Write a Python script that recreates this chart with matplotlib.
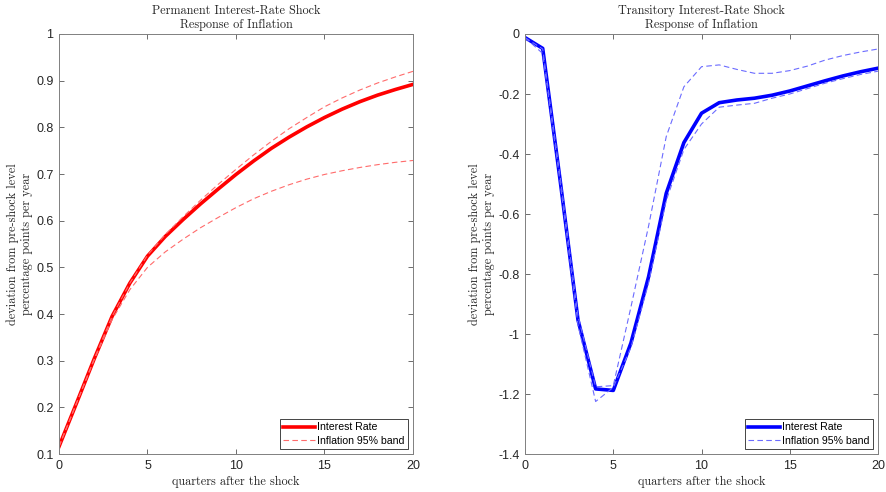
import numpy as np
import matplotlib.pyplot as plt

# ── Data ──
quarters = np.arange(0, 21)

perm_rate = [0.116, 0.210, 0.305, 0.395, 0.466, 0.524, 0.566, 0.602, 0.636, 0.668,
             0.699, 0.728, 0.755, 0.779, 0.801, 0.821, 0.839, 0.855, 0.869, 0.881, 0.892]
perm_upper = [0.116, 0.210, 0.305, 0.395, 0.466, 0.526, 0.570, 0.608, 0.644, 0.678,
              0.710, 0.741, 0.770, 0.797, 0.821, 0.844, 0.863, 0.880, 0.895, 0.908, 0.920]
perm_lower = [0.116, 0.210, 0.303, 0.388, 0.452, 0.500, 0.533, 0.560, 0.585, 0.607,
              0.628, 0.647, 0.663, 0.677, 0.689, 0.699, 0.707, 0.714, 0.720, 0.725, 0.729]

trans_rate = [-0.012, -0.048, -0.493, -0.953, -1.183, -1.188, -1.030, -0.809, -0.531, -0.362,
              -0.264, -0.229, -0.220, -0.214, -0.204, -0.190, -0.173, -0.156, -0.140, -0.126, -0.114]
trans_upper = [-0.012, -0.050, -0.480, -0.940, -1.176, -1.172, -0.910, -0.640, -0.342, -0.176,
               -0.109, -0.103, -0.118, -0.131, -0.131, -0.122, -0.107, -0.087, -0.072, -0.060, -0.050]
trans_lower = [-0.012, -0.065, -0.500, -0.970, -1.225, -1.178, -1.045, -0.830, -0.555, -0.385,
               -0.300, -0.244, -0.237, -0.231, -0.214, -0.200, -0.182, -0.164, -0.149, -0.135, -0.124]

xticks = [0, 5, 10, 15, 20]
perm_yticks = [0.1, 0.2, 0.3, 0.4, 0.5, 0.6, 0.7, 0.8, 0.9, 1.0]
perm_yticklabels = ['0.1', '0.2', '0.3', '0.4', '0.5', '0.6', '0.7', '0.8', '0.9', '1']
trans_yticks = [-1.4, -1.2, -1.0, -0.8, -0.6, -0.4, -0.2, 0.0]
trans_yticklabels = ['-1.4', '-1.2', '-1', '-0.8', '-0.6', '-0.4', '-0.2', '0']

# ── Style ──
plt.rcParams['axes.unicode_minus'] = False
serif = 'cmr10'
sans = 'Liberation Sans'
txt = '#262626'

fig = plt.figure(figsize=(8.86, 4.92), dpi=100)
ax1 = fig.add_axes([0.0666, 0.0772, 0.3995, 0.8537])
ax2 = fig.add_axes([0.5926, 0.0772, 0.3984, 0.8537])


def style_axes(ax, yticks, yticklabels, ylim, title, solid_col, band_col, solid, up, lo):
    ax.plot(quarters, solid, color=solid_col, linewidth=2.6, label='Interest Rate')
    ax.plot(quarters, up, color=band_col, linewidth=0.8, linestyle=(0, (5, 3)),
            label='Inflation 95% band')
    ax.plot(quarters, lo, color=band_col, linewidth=0.8, linestyle=(0, (5, 3)))
    ax.set_xlim(0, 20)
    ax.set_ylim(*ylim)
    ax.set_xticks(xticks)
    ax.set_xticklabels([str(t) for t in xticks], fontfamily=sans, fontsize=9, color=txt)
    ax.set_yticks(yticks)
    ax.set_yticklabels(yticklabels, fontfamily=sans, fontsize=9, color=txt)
    ax.tick_params(direction='in', top=True, right=True, length=3.5, width=0.6,
                   colors='#555555', labelcolor=txt, pad=4)
    for sp in ax.spines.values():
        sp.set_color('#808080')
        sp.set_linewidth(0.7)
    ax.set_title(title, fontfamily=serif, fontsize=8.8, color=txt, pad=4, linespacing=1.2)
    ax.set_xlabel('quarters after the shock', fontfamily=serif, fontsize=8.8, color=txt,
                  labelpad=3)
    ax.set_ylabel('deviation from pre-shock level\npercentage points per year',
                  fontfamily=serif, fontsize=8.8, color=txt, labelpad=2, linespacing=1.2)
    leg = ax.legend(loc='lower right', prop={'family': sans, 'size': 7.6},
                    fancybox=False, framealpha=1, edgecolor='#262626',
                    handlelength=3.0, handletextpad=0.2, borderpad=0.3,
                    labelspacing=0.3, borderaxespad=0.5)
    leg.get_frame().set_linewidth(0.6)


style_axes(ax1, perm_yticks, perm_yticklabels, (0.1, 1.0),
           'Permanent Interest-Rate Shock\nResponse of Inflation',
           '#ff0000', '#ff6b6b', perm_rate, perm_upper, perm_lower)
style_axes(ax2, trans_yticks, trans_yticklabels, (-1.4, 0.0),
           'Transitory Interest-Rate Shock\nResponse of Inflation',
           '#0000ff', '#6b6bff', trans_rate, trans_upper, trans_lower)

fig.savefig('out.png', dpi=100)
